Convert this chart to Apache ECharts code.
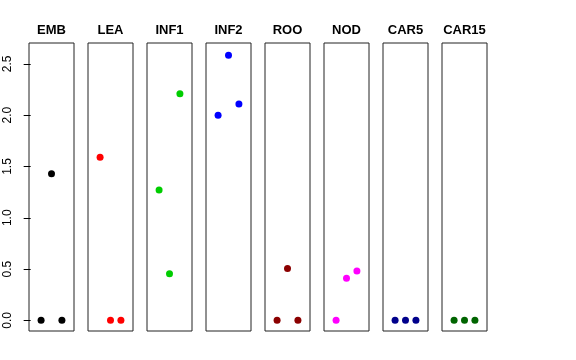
<!DOCTYPE html>
<html><head><meta charset="utf-8">
<script src="https://cdn.jsdelivr.net/npm/echarts@6/dist/echarts.min.js"></script>
<style>html,body{margin:0;padding:0;background:#fff}#c{width:576px;height:360px}</style>
</head><body><div id="c"></div>
<script>
const panels = ['EMB','LEA','INF1','INF2','ROO','NOD','CAR5','CAR15'];
const colors = ['#000000','#FF0000','#00CD00','#0000FF','#8B0000','#FF00FF','#00008B','#006400'];
const xPos = [1, 2, 3];
const EMB   = [0, 1.43, 0];
const LEA   = [1.59, 0, 0];
const INF1  = [1.27, 0.455, 2.21];
const INF2  = [2.0, 2.585, 2.11];
const ROO   = [0, 0.505, 0];
const NOD   = [0, 0.41, 0.48];
const CAR5  = [0, 0, 0];
const CAR15 = [0, 0, 0];
const yTicks = [0, 0.5, 1.0, 1.5, 2.0, 2.5];
const values = [EMB, LEA, INF1, INF2, ROO, NOD, CAR5, CAR15];

const left0 = 29, pitch = 59, pw = 45, gTop = 43, gH = 288;
const grids = [], xAxes = [], yAxes = [], series = [], titles = [];
panels.forEach((name, i) => {
  const l = left0 + pitch * i;
  grids.push({left: l, top: gTop, width: pw, height: gH, show: true, borderColor: '#222', borderWidth: 1, backgroundColor: 'transparent', containLabel: false});
  xAxes.push({type: 'value', gridIndex: i, min: -0.16, max: 4.16, show: false});
  yAxes.push({
    type: 'value', gridIndex: i, min: -0.104, max: 2.704,
    show: i === 0,
    axisLine: {show: false},
    splitLine: {show: false},
    axisTick: {show: i === 0, customValues: yTicks, length: 7, lineStyle: {color: '#000'}},
    axisLabel: {show: i === 0, customValues: yTicks, rotate: 90, margin: 15, fontFamily: 'Liberation Sans, Arial, sans-serif', fontSize: 12, color: '#000', formatter: v => v.toFixed(1)}
  });
  series.push({
    type: 'scatter', xAxisIndex: i, yAxisIndex: i, symbolSize: 7,
    itemStyle: {color: colors[i], opacity: 1},
    data: xPos.map((x, k) => [x, values[i][k]]),
    silent: true, animation: false
  });
  titles.push({text: name, left: l + pw / 2, top: 24, textAlign: 'center', padding: 0,
    textStyle: {fontFamily: 'Liberation Sans, Arial, sans-serif', fontSize: 13, fontWeight: 'bold', color: '#000'}});
});

const chart = echarts.init(document.getElementById('c'), null, {renderer: 'canvas'});
chart.setOption({animation: false, title: titles, grid: grids, xAxis: xAxes, yAxis: yAxes, series: series});
</script>
</body></html>
